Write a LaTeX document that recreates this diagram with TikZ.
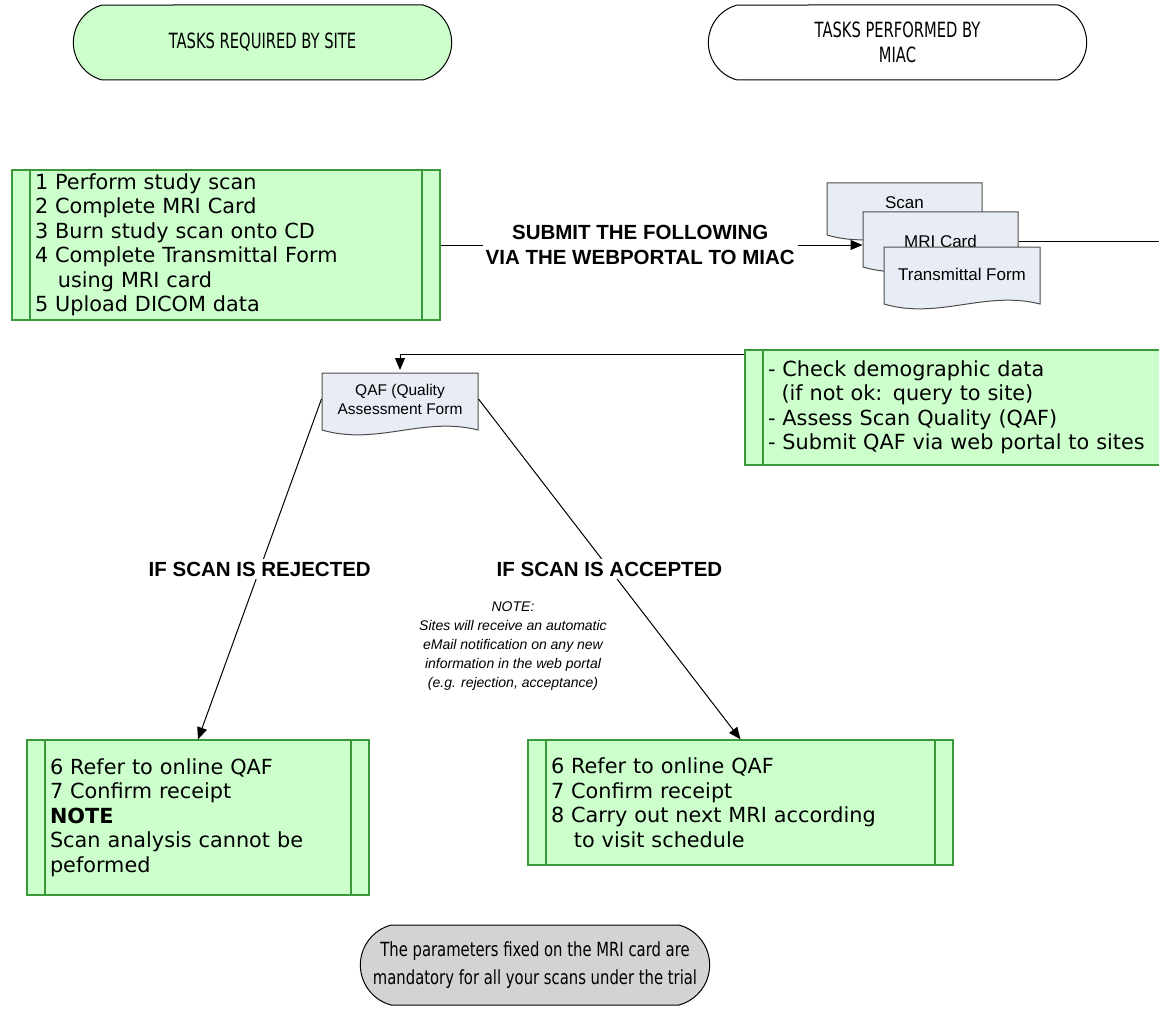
\documentclass[tikz,border=0pt]{standalone}
\usepackage{fontspec}
\setmainfont{DejaVu Sans}
\newfontfamily\verd{DejaVu Sans}
\newfontfamily\arialfont{Liberation Sans}
\newfontfamily\tahoma[FakeStretch=0.76]{DejaVu Sans}
\newfontfamily\tahomanarrow[FakeStretch=0.7]{DejaVu Sans}
\usepackage{xcolor}
\usepackage{tikz}
\usetikzlibrary{shapes.misc, arrows.meta}

\definecolor{sitegreen}{HTML}{CCFFCC}
\definecolor{boxgreen}{HTML}{3A9A3A}
\definecolor{docblue}{HTML}{E8EDF5}
\definecolor{notegray}{HTML}{D3D3D3}

\tikzstyle{header} = [rounded rectangle,
rounded rectangle arc length=150,
minimum width=385pt,
minimum height=75pt,
align=center,
draw=black,
font=\tahomanarrow\fontsize{21}{25}\selectfont]
\tikzstyle{taskbox} = [rectangle,
draw=boxgreen,
fill=sitegreen,
line width=1.3pt,
align=left,
inner xsep=23pt,
inner ysep=0pt,
font=\verd\fontsize{20.8}{24.5}\selectfont,
path picture={
  \draw[boxgreen, line width=1.3pt] ([xshift=18pt]path picture bounding box.north west) -- ([xshift=18pt]path picture bounding box.south west);
  \draw[boxgreen, line width=1.3pt] ([xshift=-18pt]path picture bounding box.north east) -- ([xshift=-18pt]path picture bounding box.south east);
}]
\tikzstyle{docline} = [draw=black!70, fill=docblue, line width=1pt]
\tikzstyle{doctext} = [align=center, inner sep=0pt, font=\arialfont\fontsize{17}{19}\selectfont]
\tikzstyle{decision} = [fill=white, align=center, inner sep=3pt, font=\arialfont\bfseries\fontsize{20.5}{25}\selectfont]
\tikzstyle{arrow} = [->, >={Triangle[length=12pt,width=10pt]}]

% document symbol: top left corner, width, height
\newcommand{\docshape}[4]{%
  \filldraw[docline] (#1,#2) -- (#1+#3,#2) -- (#1+#3,#2+#4)
    .. controls (#1+0.65*#3,#2+#4-14) and (#1+0.35*#3,#2+#4+16) .. (#1,#2+#4) -- cycle;}

\begin{document}
\begin{tikzpicture}[x=1pt, y=-1pt, line width=1pt]
\useasboundingbox (0,0) rectangle (1159,1011);

% En-tetes
\node[header, fill=sitegreen] (site) at (262.5,42.5) {TASKS REQUIRED BY SITE};
\node[header, fill=white] (miac) at (897.5,42.5) {TASKS PERFORMED BY\\MIAC};

% Taches du site
\node[taskbox, minimum width=428pt, minimum height=150pt, text width=382pt] (sitetasks) at (226,245)
  {1 Perform study scan\\2 Complete MRI Card\\3 Burn study scan onto CD\\4 Complete Transmittal Form\\\hspace*{1.1em}using MRI card\\5 Upload DICOM data};

% Documents envoyes
\docshape{827}{183}{155}{52}
\node[doctext] (scan) at (904.5,203) {Scan};
\docshape{863}{212}{155}{55}
\node[doctext, minimum width=155pt] (mri) at (940.5,241) {MRI Card};
\docshape{884}{247}{156}{57}
\node[doctext] (transmittal) at (962,274) {Transmittal Form};

\draw[arrow] (sitetasks.east) -- node[decision, pos=0.473] (submit) {SUBMIT THE FOLLOWING\\VIA THE WEBPORTAL TO MIAC} (sitetasks.east -| mri.west);
\coordinate (outR1) at (1160,241);
\draw (mri.east) -- (outR1);

% Retour vers le QAF
\coordinate (outR2) at (1160,354);
\docshape{322}{373}{156}{57}
\node[doctext, minimum width=156pt, minimum height=57pt, font=\arialfont\fontsize{15.5}{19}\selectfont] (qaf) at (400,399) {QAF (Quality\\Assessment Form};
\draw[arrow] (outR2) -| (qaf.north);

% Taches MIAC
\node[taskbox, minimum width=450pt, minimum height=115pt, text width=404pt] (miactasks) at (970,407.5)
  {- Check demographic data\\\hspace*{0.65em}(if not ok: query to site)\\- Assess Scan Quality (QAF)\\- Submit QAF via web portal to sites};

% Decisions
\node[taskbox, minimum width=342pt, minimum height=155pt, text width=296pt] (rejected) at (198,817.5)
  {6 Refer to online QAF\\7 Confirm receipt\\\textbf{NOTE}\\Scan analysis cannot be\\peformed};
\node[taskbox, minimum width=425pt, minimum height=125pt, text width=379pt] (accepted) at (740.5,802.5)
  {6 Refer to online QAF\\7 Confirm receipt\\8 Carry out next MRI according\\\hspace*{1.1em}to visit schedule};

\draw[arrow] (qaf.west) -- node[decision] (rejlabel) {IF SCAN IS REJECTED} (rejected.north);
\draw[arrow] (qaf.east) -- node[decision] (acclabel) {IF SCAN IS ACCEPTED} (accepted.north);

% Note courriel
\node[align=center, font=\arialfont\itshape\fontsize{14}{19}\selectfont] (mailnote) at (513,646)
  {NOTE:\\Sites will receive an automatic\\ eMail notification on any new\\information in the web portal\\ (e.g. rejection, acceptance)};

% Remarque finale
\node[header, fill=notegray, minimum width=356pt, minimum height=80pt, font=\tahoma\fontsize{19.5}{28}\selectfont] (trialnote) at (535,965)
  {The parameters fixed on the MRI card are\\mandatory for all your scans under the trial};

\end{tikzpicture}
\end{document}
